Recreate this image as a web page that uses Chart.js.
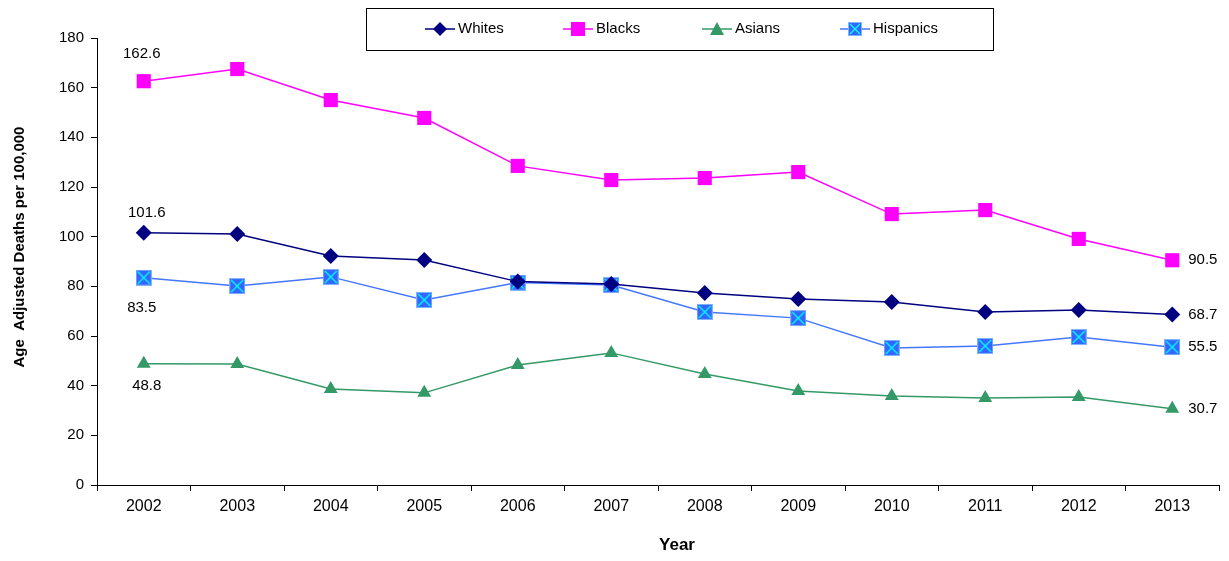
<!DOCTYPE html>
<html>
<head>
<meta charset="utf-8">
<script src="https://cdn.jsdelivr.net/npm/chart.js@4/dist/chart.umd.min.js"></script>
<style>
  html, body { margin: 0; padding: 0; background: #fff; }
  #wrap { width: 1229px; height: 561px; position: relative; }
</style>
</head>
<body>
<div id="wrap"><canvas id="chart"></canvas></div>
<script>
// 数据
const years = ['2002', '2003', '2004', '2005', '2006', '2007', '2008', '2009', '2010', '2011', '2012', '2013'];
const whites = [101.6, 101.1, 92.2, 90.6, 81.9, 80.9, 77.3, 74.9, 73.7, 69.7, 70.5, 68.7];
const blacks = [162.6, 167.5, 155.0, 147.8, 128.5, 122.8, 123.6, 126.0, 109.1, 110.7, 99.1, 90.5];
const asians = [48.8, 48.7, 38.7, 37.1, 48.3, 53.2, 44.7, 37.9, 35.8, 35.0, 35.4, 30.7];
const hispanics = [83.5, 80.1, 83.8, 74.5, 81.5, 80.5, 69.7, 67.2, 55.2, 56.0, 59.6, 55.5];
const yTicks = [0, 20, 40, 60, 80, 100, 120, 140, 160, 180];
const xTitle = 'Year';
const yTitle = 'Age  Adjusted Deaths per 100,000';

const FONT = 'Arial, "Liberation Sans", sans-serif';

/**
 * 带叉的方形标记 (Hispanics)
 */
function makeCrossBox(size) {
    const c = document.createElement('canvas');
    c.width = size; c.height = size;
    const g = c.getContext('2d');
    g.fillStyle = '#3366ff';
    g.fillRect(0, 0, size, size);
    g.strokeStyle = '#7fb2ff';
    g.lineWidth = 1;
    g.strokeRect(0.5, 0.5, size - 1, size - 1);
    g.strokeStyle = '#00ffff';
    g.lineWidth = 1.4;
    g.beginPath();
    g.moveTo(2, 2); g.lineTo(size - 2, size - 2);
    g.moveTo(size - 2, 2); g.lineTo(2, size - 2);
    g.stroke();
    return c;
}
const crossBox = makeCrossBox(16);
const crossBoxSmall = makeCrossBox(14);

const series = [
    { label: 'Whites', data: whites, line: '#000080', fill: '#000080', style: 'rectRot', radius: 8,
      first: { dx: 3, dy: -20 }, legendStyle: 'rectRot', legendX: 440 },
    { label: 'Blacks', data: blacks, line: '#ff00ff', fill: '#ff00ff', style: 'rect', radius: 10,
      first: { dx: -2, dy: -27 }, legendStyle: 'rect', legendX: 578 },
    { label: 'Asians', data: asians, line: '#339966', fill: '#339966', style: 'triangle', radius: 8,
      first: { dx: 3, dy: 22 }, legendStyle: 'triangle', legendX: 717 },
    { label: 'Hispanics', data: hispanics, line: '#4477ff', fill: '#3366ff', style: crossBox, radius: 8,
      first: { dx: -2, dy: 30 }, legendStyle: crossBoxSmall, legendX: 855 }
];

// 首尾数据标签
const endLabels = {
    id: 'endLabels',
    afterDatasetsDraw(chart) {
        const ctx = chart.ctx;
        const xs = chart.scales.x, ys = chart.scales.y;
        ctx.save();
        ctx.font = '15px ' + FONT;
        ctx.fillStyle = '#000';
        ctx.textBaseline = 'middle';
        series.forEach(s => {
            const n = s.data.length;
            const x0 = xs.getPixelForValue(0), y0 = ys.getPixelForValue(s.data[0]);
            ctx.textAlign = 'center';
            ctx.fillText(s.data[0].toFixed(1), x0 + s.first.dx, y0 + s.first.dy);
            const x1 = xs.getPixelForValue(n - 1), y1 = ys.getPixelForValue(s.data[n - 1]);
            ctx.textAlign = 'left';
            ctx.fillText(s.data[n - 1].toFixed(1), x1 + 16, y1);
        });
        ctx.restore();
    }
};

// 坐标轴标题 (手动定位)
const axisTitles = {
    id: 'axisTitles',
    afterDraw(chart) {
        const ctx = chart.ctx;
        ctx.save();
        ctx.fillStyle = '#000';
        ctx.textAlign = 'center';
        ctx.textBaseline = 'middle';
        ctx.font = 'bold 17px ' + FONT;
        ctx.fillText(xTitle, 677, 545);
        ctx.translate(20, 247);
        ctx.rotate(-Math.PI / 2);
        ctx.font = 'bold 15px ' + FONT;
        ctx.fillText(yTitle, 0, 0);
        ctx.restore();
    }
};

// 自绘图例 (带框)
const boxLegend = {
    id: 'boxLegend',
    afterDraw(chart) {
        const ctx = chart.ctx;
        ctx.save();
        ctx.strokeStyle = '#000';
        ctx.lineWidth = 1;
        ctx.strokeRect(366.5, 8.5, 627, 42);
        ctx.font = '15px ' + FONT;
        ctx.textBaseline = 'middle';
        ctx.textAlign = 'left';
        const cy = 29;
        series.forEach(s => {
            const mx = s.legendX;
            ctx.strokeStyle = s.line;
            ctx.lineWidth = 1.5;
            ctx.beginPath();
            ctx.moveTo(mx - 15, cy); ctx.lineTo(mx + 15, cy);
            ctx.stroke();
            ctx.fillStyle = s.fill;
            if (s.legendStyle === 'rectRot') {
                ctx.beginPath();
                ctx.moveTo(mx, cy - 7); ctx.lineTo(mx + 7, cy); ctx.lineTo(mx, cy + 7); ctx.lineTo(mx - 7, cy);
                ctx.closePath(); ctx.fill();
            } else if (s.legendStyle === 'rect') {
                ctx.fillRect(mx - 7, cy - 7, 14, 14);
            } else if (s.legendStyle === 'triangle') {
                ctx.beginPath();
                ctx.moveTo(mx, cy - 7); ctx.lineTo(mx + 7, cy + 6); ctx.lineTo(mx - 7, cy + 6);
                ctx.closePath(); ctx.fill();
            } else {
                ctx.drawImage(s.legendStyle, mx - 7, cy - 7, 14, 14);
            }
            ctx.fillStyle = '#000';
            ctx.fillText(s.label, mx + 18, cy);
        });
        ctx.restore();
    }
};

const ctx = document.getElementById('chart').getContext('2d');
new Chart(ctx, {
    type: 'line',
    data: {
        labels: years,
        datasets: series.map(s => ({
            label: s.label,
            data: s.data,
            borderColor: s.line,
            backgroundColor: s.fill,
            borderWidth: 1.5,
            pointStyle: s.style,
            pointRadius: s.radius,
            pointBorderWidth: 0,
            pointBackgroundColor: s.fill,
            fill: false,
            tension: 0
        }))
    },
    options: {
        responsive: true,
        maintainAspectRatio: false,
        animation: false,
        layout: { padding: { top: 38, right: 7, left: 0, bottom: 0 } },
        plugins: {
            legend: { display: false },
            tooltip: { enabled: false }
        },
        scales: {
            x: {
                offset: true,
                grid: {
                    offset: true,
                    drawOnChartArea: false,
                    drawTicks: true,
                    tickLength: 6,
                    color: '#000'
                },
                border: { color: '#000', width: 1 },
                ticks: { color: '#000', font: { family: FONT, size: 16 }, padding: 6, maxRotation: 0 },
                afterFit(scale) { scale.height = 76; }
            },
            y: {
                min: 0, max: 180,
                afterBuildTicks(scale) { scale.ticks = yTicks.map(v => ({ value: v })); },
                grid: {
                    drawOnChartArea: false,
                    drawTicks: true,
                    tickLength: 6,
                    color: '#000'
                },
                border: { color: '#000', width: 1 },
                ticks: { color: '#000', font: { family: FONT, size: 15 }, padding: 7 },
                afterFit(scale) { scale.width = 97; }
            }
        }
    },
    plugins: [endLabels, axisTitles, boxLegend]
});
</script>
</body>
</html>
